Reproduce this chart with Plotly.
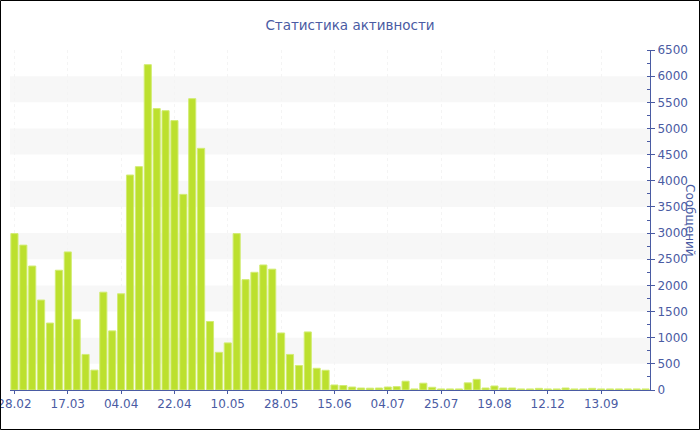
import plotly.graph_objects as go

# ---- data ----
values = [2990, 2770, 2370, 1720, 1280, 2290, 2640, 1350, 680, 380,
          1870, 1130, 1840, 4110, 4270, 6220, 5380, 5340, 5150, 3740,
          5570, 4620, 1310, 720, 900, 2990, 2110, 2250, 2390, 2310,
          1090, 680, 470, 1110, 415, 377, 96, 86, 57, 38,
          35, 38, 57, 64, 168, 20, 130, 52, 20, 20,
          20, 137, 204, 38, 77, 38, 38, 20, 20, 32,
          20, 20, 38, 20, 20, 32, 20, 20, 20, 20,
          20, 20]
tick_labels = ["28.02", "17.03", "04.04", "22.04", "10.05", "28.05",
               "15.06", "04.07", "25.07", "19.08", "12.12", "13.09"]
tick_step = 6
title_text = "Статистика активности"
y_title = "Сообщений"

x = list(range(len(values)))
tick_positions = [i * tick_step for i in range(len(tick_labels))]

blue = "#4a5ba3"
font_family = "DejaVu Sans"

W, H = 700, 430
ml, mr, mt, mb = 10, 50, 50, 40
pw, ph = W - ml - mr, H - mt - mb

fig = go.Figure()
fig.add_trace(go.Bar(
    x=x, y=values,
    marker=dict(color="#bce02e", line=dict(color="#d2ec74", width=1)),
    hoverinfo="y",
))

shapes = []
# alternating bands
for lo in range(500, 6500, 1000):
    shapes.append(dict(type="rect", xref="paper", yref="y", x0=0, x1=1,
                       y0=lo, y1=lo + 500, fillcolor="#f7f7f7",
                       line=dict(width=0), layer="below"))
# outer border
shapes.append(dict(type="rect", xref="paper", yref="paper",
                   x0=(0.5 - ml) / pw, x1=(W - 0.5 - ml) / pw,
                   y0=(0.5 - mb) / ph, y1=(H - 0.5 - mb) / ph,
                   line=dict(color="black", width=1), fillcolor="rgba(0,0,0,0)",
                   layer="above"))

fig.update_layout(
    width=W, height=H,
    margin=dict(l=ml, r=mr, t=mt, b=mb, autoexpand=False),
    paper_bgcolor="white", plot_bgcolor="white",
    showlegend=False,
    bargap=0.2,
    title=dict(text=title_text, x=0.5, xref="container", xanchor="center",
               y=1 - 25 / H, yanchor="middle", automargin=False,
               font=dict(family=font_family, size=13.5, color=blue)),
    font=dict(family=font_family, size=12, color=blue),
    shapes=shapes,
    annotations=[dict(text=y_title, textangle=90, xref="paper", yref="paper",
                      x=1 + 40 / pw, y=0.5, xanchor="center", yanchor="middle",
                      showarrow=False,
                      font=dict(family=font_family, size=12, color=blue))],
)

fig.update_xaxes(
    range=[-0.5, len(values) - 0.5], automargin=False,
    tickmode="array", tickvals=tick_positions, ticktext=tick_labels,
    ticklabeloverflow="allow",
    ticks="outside", ticklen=3, tickcolor=blue,
    showline=True, linecolor=blue, linewidth=1,
    showgrid=True, gridcolor="#f4f4f4", griddash="dot", gridwidth=1,
    tickfont=dict(family=font_family, size=12, color=blue),
    zeroline=False,
)
fig.update_yaxes(
    side="right", range=[0, 6500], dtick=500, tick0=0, automargin=False,
    ticklabeloverflow="allow",
    ticks="outside", ticklen=4, tickcolor=blue,
    minor=dict(dtick=250, ticks="inside", ticklen=3, tickcolor=blue, showgrid=False),
    showline=True, linecolor=blue, linewidth=1,
    showgrid=False, zeroline=False,
    tickfont=dict(family=font_family, size=12, color=blue),
)

fig.write_html(
    "out.html",
    config={"displayModeBar": False},
    post_script="document.body.style.margin='0';document.body.style.overflow='hidden';",
)
